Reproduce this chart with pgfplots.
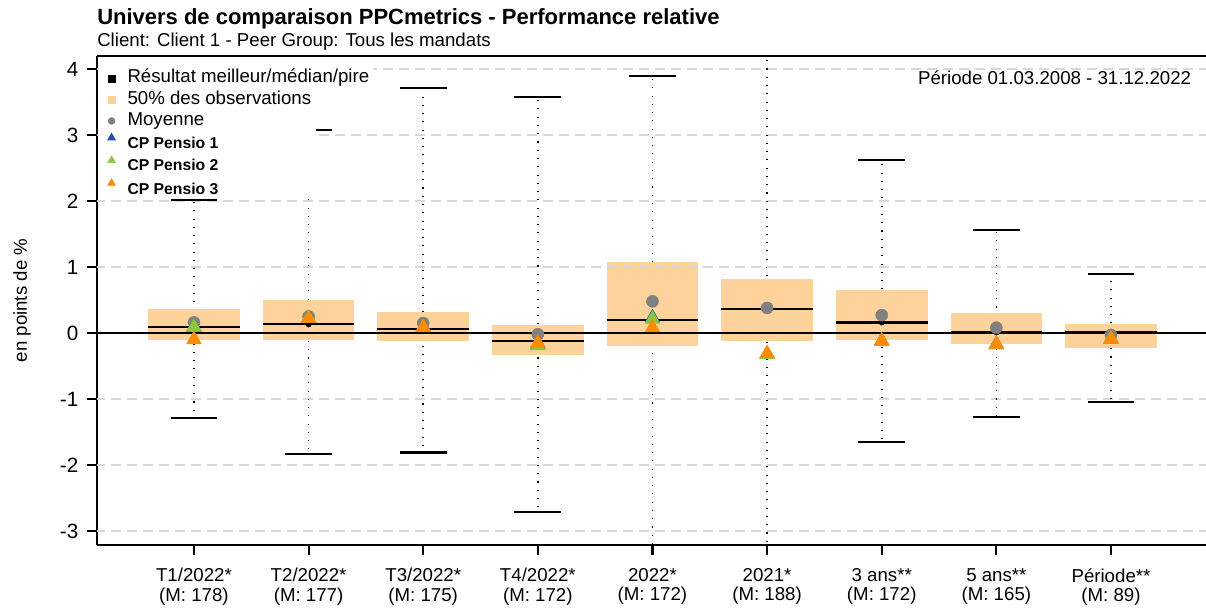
\documentclass[border=0pt]{standalone}
\usepackage{fontspec}
\setmainfont{Liberation Sans}
\usepackage{pgfplots}
\usepackage{pgfplotstable}
\pgfplotsset{compat=1.18}
\usepgfplotslibrary{statistics}

\definecolor{peach}{RGB}{254,210,155}
\definecolor{meangray}{RGB}{128,128,128}
\definecolor{pblue}{RGB}{30,80,165}
\definecolor{pgreen}{RGB}{141,198,63}
\definecolor{porange}{RGB}{255,140,0}
\definecolor{gridgray}{RGB}{215,215,215}

\pgfplotsset{raisedtri/.style={legend image post style={yshift=#1}}}

\pgfplotstableread{
x  min   q1    med   q3    max   mean  pa    pb    pc
0 -1.29 -0.11  0.09  0.36  2.02  0.16  0.09  0.09 -0.10
1 -1.83 -0.10  0.13  0.50  3.08  0.25  0.22  0.22  0.22
2 -1.81 -0.12  0.06  0.32  3.71  0.15  0.09  0.08  0.09
3 -2.71 -0.34 -0.12  0.12  3.58 -0.02 -0.17 -0.19 -0.15
4 -3.60 -0.20  0.20  1.07  3.89  0.48  0.23  0.21  0.08
5 -3.80 -0.12  0.36  0.82  4.60  0.38 -0.32 -0.33 -0.31
6 -1.65 -0.10  0.16  0.65  2.62  0.27 -0.12 -0.13 -0.12
7 -1.27 -0.16  0.01  0.30  1.56  0.08 -0.17 -0.18 -0.17
8 -1.05 -0.22  0.02  0.14  0.90 -0.03 -0.09 -0.09 -0.09
}\datatable

\begin{document}
\begin{tikzpicture}
\useasboundingbox (-72.75pt,-48.75pt) rectangle (831.75pt,408.75pt);
\begin{axis}[
  name=ax, at={(0,0)}, anchor=south west,
  scale only axis, width=831.75pt, height=366.75pt,
  xmin=-0.846, xmax=8.829, ymin=-3.212, ymax=4.197,
  axis x line*=bottom, axis y line*=left,
  axis line style={line width=2.2pt, black},
  xtick={0,...,8},
  xticklabels={{T1/2022*\\(M: 178)},{T2/2022*\\(M: 177)},{T3/2022*\\(M: 175)},{T4/2022*\\(M: 172)},{2022*\\(M: 172)},{2021*\\(M: 188)},{3 ans**\\(M: 172)},{5 ans**\\(M: 165)},{Période**\\(M: 89)}},
  ytick={-3,...,4},
  tick align=outside,
  major tick length=7.5pt,
  every tick/.style={black, line width=1.6pt},
  /pgf/number format/assume math mode=true,
  yticklabel style={font=\fontsize{15.5}{18}\selectfont, xshift=-3pt},
  xticklabel style={align=center, font=\fontsize{14}{14.5}\selectfont, yshift=-6.5pt},
  ylabel={en points de \%},
  every axis y label/.style={at={(rel axis cs:0,0.5)}, xshift=-56.25pt, rotate=90, anchor=center, font=\fontsize{14}{16}\selectfont},
  boxplot/draw direction=y,
  boxplot/every box/.style={draw=none, fill=peach},
  boxplot/every whisker/.style={draw=none},
  boxplot/every median/.style={draw=black, line width=1.6pt},
  legend cell align=left,
  legend style={at={(0,1)}, anchor=north west, xshift=7.8pt, yshift=-10pt, draw=none, fill=none,
    font=\fontsize{14}{16}\selectfont, row sep=2.4pt, inner sep=0pt,
    nodes={inner xsep=0pt, inner ysep=0pt, text height=10pt, text depth=3.5pt},
    /tikz/every odd column/.append style={column sep=9pt}},
]
% grid lines
\addplot[forget plot, gridgray, line width=1.1pt, dash pattern=on 7.5pt off 4.5pt, unbounded coords=jump]
  coordinates {(-1,-3) (9,-3) (0,nan) (-1,-2) (9,-2) (0,nan) (-1,-1) (9,-1) (0,nan) (-1,1) (9,1) (0,nan) (-1,2) (9,2) (0,nan) (-1,3) (9,3) (0,nan) (-1,4) (9,4)};
% whiskers and caps
\addplot[forget plot, only marks, mark=none,
  error bars/.cd, y dir=both, y explicit, error mark=|,
  error bar style={black, line width=1.25pt, dash pattern=on 0.8pt off 5.4pt},
  error mark options={black, line width=1.6pt, mark size=17.6pt, solid}]
  table[x=x, y=med, y error plus expr=\thisrow{max}-\thisrow{med}, y error minus expr=\thisrow{med}-\thisrow{min}] {\datatable};
% boxes (50% of observations) with median
\addplot[forget plot, boxplot prepared={draw position=0, lower whisker=-0.11, lower quartile=-0.11, median=0.09, upper quartile=0.36, upper whisker=0.36, box extend=0.8}] coordinates {};
\addplot[forget plot, boxplot prepared={draw position=1, lower whisker=-0.10, lower quartile=-0.10, median=0.13, upper quartile=0.50, upper whisker=0.50, box extend=0.8}] coordinates {};
\addplot[forget plot, boxplot prepared={draw position=2, lower whisker=-0.12, lower quartile=-0.12, median=0.06, upper quartile=0.32, upper whisker=0.32, box extend=0.8}] coordinates {};
\addplot[forget plot, boxplot prepared={draw position=3, lower whisker=-0.34, lower quartile=-0.34, median=-0.12, upper quartile=0.12, upper whisker=0.12, box extend=0.8}] coordinates {};
\addplot[forget plot, boxplot prepared={draw position=4, lower whisker=-0.20, lower quartile=-0.20, median=0.20, upper quartile=1.07, upper whisker=1.07, box extend=0.8}] coordinates {};
\addplot[forget plot, boxplot prepared={draw position=5, lower whisker=-0.12, lower quartile=-0.12, median=0.36, upper quartile=0.82, upper whisker=0.82, box extend=0.8}] coordinates {};
\addplot[forget plot, boxplot prepared={draw position=6, lower whisker=-0.10, lower quartile=-0.10, median=0.16, upper quartile=0.65, upper whisker=0.65, box extend=0.8}] coordinates {};
\addplot[forget plot, boxplot prepared={draw position=7, lower whisker=-0.16, lower quartile=-0.16, median=0.01, upper quartile=0.30, upper whisker=0.30, box extend=0.8}] coordinates {};
\addplot[forget plot, boxplot prepared={draw position=8, lower whisker=-0.22, lower quartile=-0.22, median=0.02, upper quartile=0.14, upper whisker=0.14, box extend=0.8}] coordinates {};
% grid line at 1 over boxes
\addplot[forget plot, gridgray, line width=1.1pt, dash pattern=on 7.5pt off 4.5pt]
  coordinates {(-1,1) (9,1)};
% zero line
\addplot[forget plot, black, line width=2pt] coordinates {(-1,0) (9,0)};
% mean
\addplot[forget plot, only marks, mark=*, mark size=4.5pt, meangray, mark options={draw=meangray, fill=meangray}] table[x=x, y=mean] {\datatable};
% CP Pensio
\addplot[forget plot, only marks, mark=triangle*, mark size=6.3pt, mark options={draw=pblue, fill=pblue}] table[x=x, y=pa] {\datatable};
\addplot[forget plot, only marks, mark=triangle*, mark size=6.3pt, mark options={draw=pgreen, fill=pgreen}] table[x=x, y=pb] {\datatable};
\addplot[forget plot, only marks, mark=triangle*, mark size=6.3pt, mark options={draw=porange, fill=porange}] table[x=x, y=pc] {\datatable};
% legend backgrounds
\fill[white] (axis cs:-0.83,4.18) rectangle (axis cs:1.562,3.106);
\fill[white] (axis cs:-0.83,3.106) rectangle (axis cs:1.064,2.045);
% legend
\addlegendimage{only marks, mark=square*, mark size=2.7pt, black}
\addlegendentry{Résultat meilleur/médian/pire}
\addlegendimage{only marks, mark=square*, mark size=2.7pt, peach}
\addlegendentry{50\% des observations}
\addlegendimage{only marks, mark=*, mark size=2.6pt, meangray}
\addlegendentry{Moyenne}
\addlegendimage{only marks, mark=triangle*, mark size=3.4pt, pblue, raisedtri=4.5pt}
\addlegendentry{\bfseries\fontsize{11.8}{14}\selectfont CP Pensio 1}
\addlegendimage{only marks, mark=triangle*, mark size=3.4pt, pgreen, raisedtri=4.5pt}
\addlegendentry{\bfseries\fontsize{11.8}{14}\selectfont CP Pensio 2}
\addlegendimage{only marks, mark=triangle*, mark size=3.4pt, porange, raisedtri=5.5pt}
\addlegendentry{\bfseries\fontsize{11.8}{14}\selectfont CP Pensio 3}
\end{axis}
\draw[line width=2.2pt] (ax.north west) -- (ax.north east);
\node[anchor=base west, inner sep=0pt, font=\bfseries\fontsize{16.5}{20}\selectfont] at ([yshift=23.25pt]ax.north west) {Univers de comparaison PPCmetrics - Performance relative};
\node[anchor=base west, inner sep=0pt, font=\fontsize{14}{16}\selectfont] at ([yshift=6.75pt]ax.north west) {Client: Client 1 - Peer Group: Tous les mandats};
\node[anchor=base east, inner sep=0pt, font=\fontsize{14}{16}\selectfont] at ([xshift=-11pt,yshift=-21.75pt]ax.north east) {Période 01.03.2008 - 31.12.2022};
\end{tikzpicture}
\end{document}
